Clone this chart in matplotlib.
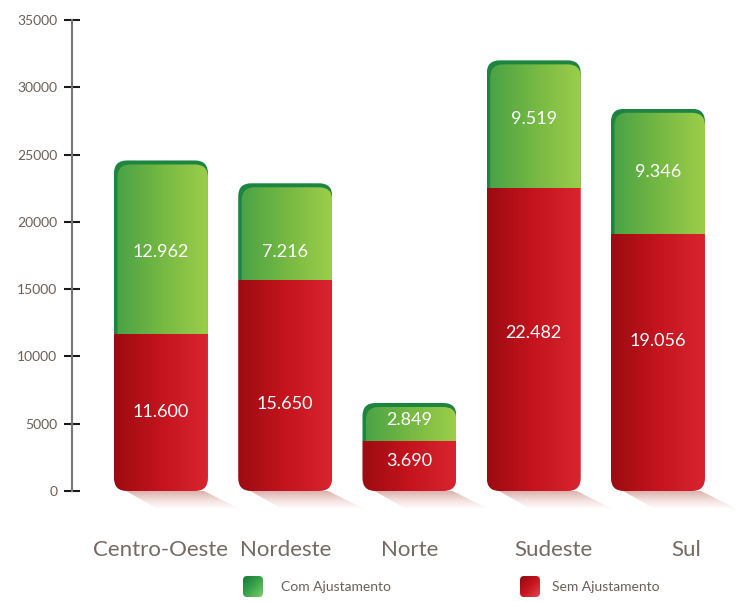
import matplotlib.pyplot as plt
import numpy as np
from matplotlib.patches import FancyBboxPatch, Polygon
from matplotlib.colors import LinearSegmentedColormap

regioes = ['Centro-Oeste', 'Nordeste', 'Norte', 'Sudeste', 'Sul']
sem_ajuste = [11600, 15650, 3690, 22482, 19056]
com_ajuste = [12962, 7216, 2849, 9519, 9346]
rot_sem = ['11.600', '15.650', '3.690', '22.482', '19.056']
rot_com = ['12.962', '7.216', '2.849', '9.519', '9.346']

W, H = 737, 602
texto = '#6b6057'
verde = LinearSegmentedColormap.from_list('verde', ['#47a146', '#74b843', '#9dcd4a'])
vermelho = LinearSegmentedColormap.from_list('verm', ['#9c0b12', '#c4141d', '#d9242f'])
verde_escuro = '#1e8540'
sombra_cm = LinearSegmentedColormap.from_list('sombra', ['#dcb3ae', '#f3e2e0', '#ffffff'])

# ajuste fino da posição dos rótulos (pixels, positivo = para baixo)
aj_com = [4, 20, -2, -5, 0]
aj_sem = [-1, 18, -5, -7, -22]
desloc = [0, 0, 0, 20, 28]

fig = plt.figure(figsize=(W / 100, H / 100), dpi=100)
ax = fig.add_axes([72 / W, (H - 491) / H, (W - 72) / W, 471 / H])

xmin, xmax = -0.716, 4.636
ymax = 35000
px = (xmax - xmin) / (W - 72)   # x units per pixel
py = ymax / 471                 # y units per pixel
larg = 94 * px
raio = 13 * px
asp = py / px

grad = np.linspace(0, 1, 256)[None, :]


def barra(x0, y0, w, h, **kw):
    p = FancyBboxPatch((x0, y0), w, h, boxstyle=f'round,pad=0,rounding_size={raio}',
                       mutation_aspect=asp, **kw)
    ax.add_patch(p)
    return p


for i, (s, c) in enumerate(zip(sem_ajuste, com_ajuste)):
    x0 = i - larg / 2
    total = s + c
    # sombra em faixas
    n = 18
    for k in range(n):
        t0, t1 = k / n, (k + 1) / n
        esq0, esq1 = x0 + (12 + 32 * t0) * px, x0 + (12 + 32 * t1) * px
        dir0, dir1 = x0 + larg + (-4 + 36 * t0) * px, x0 + larg + (-4 + 36 * t1) * px
        ax.add_patch(Polygon([(esq0, -18 * t0 * py), (dir0, -18 * t0 * py),
                              (dir1, -18 * t1 * py), (esq1, -18 * t1 * py)],
                             closed=True, facecolor=sombra_cm(t0), edgecolor='none',
                             zorder=1, clip_on=False))

    cheia = barra(x0, 0, larg, total, facecolor='none', edgecolor='none', zorder=2)
    interna = barra(x0 + 3.5 * px, 0, larg - 3.5 * px, total - 4 * py,
                    facecolor='none', edgecolor='none', zorder=2)

    aro = ax.imshow([[0, 0]], cmap=LinearSegmentedColormap.from_list('a', [verde_escuro, verde_escuro]),
                    extent=[x0, x0 + larg, s, total], aspect='auto', zorder=3)
    aro.set_clip_path(cheia)
    im_v = ax.imshow(grad, cmap=verde, extent=[x0, x0 + larg, s, total], aspect='auto', zorder=4)
    im_v.set_clip_path(interna)
    im_r = ax.imshow(grad, cmap=vermelho, extent=[x0, x0 + larg, 0, s], aspect='auto', zorder=5)
    im_r.set_clip_path(cheia)

    ax.text(i, s + c / 2 - aj_com[i] * py, rot_com[i], color='white', ha='center',
            va='center', fontsize=13, family='Lato', zorder=10)
    ax.text(i, s / 2 - aj_sem[i] * py, rot_sem[i], color='white', ha='center',
            va='center', fontsize=13, family='Lato', zorder=10)

ax.set_xlim(xmin, xmax)
ax.set_ylim(0, ymax)
ax.set_yticks(np.arange(0, 35001, 5000))
ax.set_xticks([])
for lado in ['top', 'right', 'bottom']:
    ax.spines[lado].set_visible(False)
ax.spines['left'].set_color('#777777')
ax.spines['left'].set_linewidth(1.5)
ax.tick_params(axis='y', direction='inout', length=11, width=1.5, color='#1a1a1a',
               labelcolor=texto, labelsize=10, pad=5)
for t in ax.get_yticklabels():
    t.set_family('Lato')

for i, nome in enumerate(regioes):
    ax.text(i + desloc[i] * px, -59 * py, nome, ha='center', va='center', fontsize=16,
            color='#756a61', family='Lato', clip_on=False)

# legenda
leg = [('Com Ajustamento', ['#12793a', '#3aa34a', '#7ccc6c'], 243, 281),
       ('Sem Ajustamento', ['#8e0a10', '#c8141e', '#e04a56'], 520, 552)]
for nome, cores, xq, xt in leg:
    axq = fig.add_axes([xq / W, (H - 597) / H, 20 / W, 21 / H])
    axq.axis('off')
    cm = LinearSegmentedColormap.from_list('q', cores)
    gx, gy = np.meshgrid(np.linspace(0, 1, 64), np.linspace(0, 1, 64))
    imq = axq.imshow((gx + gy) / 2, cmap=cm, extent=[0, 1, 0, 1], aspect='auto')
    q = FancyBboxPatch((0, 0), 1, 1, boxstyle='round,pad=0,rounding_size=0.2',
                       facecolor='none', edgecolor='none', transform=axq.transAxes)
    axq.add_patch(q)
    imq.set_clip_path(q)
    axq.set_xlim(0, 1)
    axq.set_ylim(0, 1)
    fig.text(xt / W, (H - 587) / H, nome, ha='left', va='center', fontsize=10,
             color=texto, family='Lato')

fig.savefig('out.png', dpi=100)
